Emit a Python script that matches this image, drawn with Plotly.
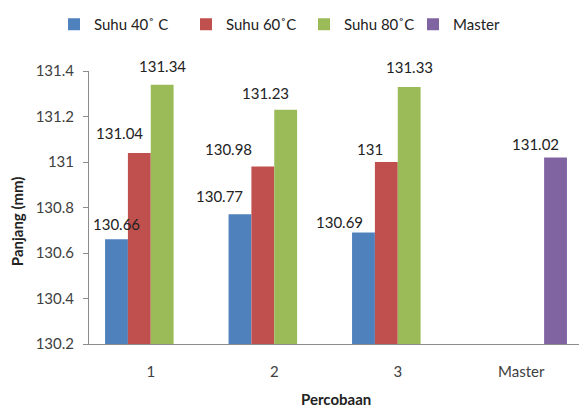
import plotly.graph_objects as go

categories = ["1", "2", "3", "Master"]
series_names = ["Suhu 40˚ C", "Suhu 60˚C", "Suhu 80˚C", "Master"]
suhu_40 = [130.66, 130.77, 130.69, None]
suhu_60 = [131.04, 130.98, 131.00, None]
suhu_80 = [131.34, 131.23, 131.33, None]
master = [None, None, None, 131.02]
y_tick_vals = [130.2, 130.4, 130.6, 130.8, 131.0, 131.2, 131.4]
y_tick_text = ["130.2", "130.4", "130.6", "130.8", "131", "131.2", "131.4"]

colors = ["#4F81BD", "#C0504D", "#9BBB59", "#8064A2"]
all_series = [suhu_40, suhu_60, suhu_80, master]

# label nudges (px) per series/category, styling only
label_dx = [[0, -20, -24, 0], [-20, -34, -16, 0], [0, -20, 0, 0], [0, 0, 0, -20]]
label_dy = [[15, 18, 11, 0], [20, 18, 13, 0], [19, 17, 20, 0], [0, 0, 0, 13]]
# legend entry left edges (figure px), styling only
legend_left_px = [46, 178, 296, 405]

bargap = 0.26
font = "Lato, Carlito, Calibri, sans-serif"
fs = 15

# the page body adds an 8px margin, so the figure is drawn 8px smaller
W, H = 579, 401
ML, MR, MT, MB = 81, 4, 63, 65
PW, PH = W - ML - MR, H - MT - MB

fig = go.Figure()
legend_ids = ["legend", "legend2", "legend3", "legend4"]
for name, vals, col, lid in zip(series_names, all_series, colors, legend_ids):
    fig.add_trace(go.Bar(x=categories, y=vals, name=name, marker_color=col,
                         marker_line_width=0, hoverinfo="skip", legend=lid))

slot = (1 - bargap) / len(all_series)
for k, vals in enumerate(all_series):
    for i, v in enumerate(vals):
        if v is None:
            continue
        fig.add_annotation(x=i + (k - 1.5) * slot, y=v, xref="x", yref="y",
                           text=f"{v:g}", showarrow=False, yanchor="middle",
                           xshift=label_dx[k][i], yshift=label_dy[k][i],
                           font=dict(family=font, size=fs, color="#222222"))

fig.add_annotation(text="<b>Panjang (mm)</b>", xref="paper", yref="paper",
                   x=-(ML - 9) / PW, y=0.45, textangle=-90, showarrow=False,
                   xanchor="center", yanchor="middle",
                   font=dict(family=font, size=fs, color="#222222"))
fig.add_annotation(text="<b>Percobaan</b>", xref="paper", yref="paper",
                   x=0.5, y=-(55) / PH, showarrow=False,
                   xanchor="center", yanchor="middle",
                   font=dict(family=font, size=fs, color="#222222"))

legends = {}
for lid, left in zip(legend_ids, legend_left_px):
    legends[lid] = dict(orientation="h", x=(left - ML) / PW, xanchor="left",
                        yref="container", y=1, yanchor="top",
                        font=dict(family=font, size=fs, color="#222222"),
                        itemwidth=30, bgcolor="rgba(0,0,0,0)")

fig.update_layout(
    width=W, height=H,
    margin=dict(l=ML, r=MR, t=MT, b=MB),
    paper_bgcolor="white", plot_bgcolor="white",
    barmode="group", bargap=bargap, bargroupgap=0,
    font=dict(family=font, size=fs, color="#404040"),
    showlegend=True,
    **legends,
    xaxis=dict(type="category", showline=True, linecolor="#8C8C8C", linewidth=1,
               ticks="", showgrid=False, automargin=False,
               ticklabelstandoff=14,
               tickfont=dict(family=font, size=fs, color="#404040")),
    yaxis=dict(range=[130.2, 131.4], tickvals=y_tick_vals, ticktext=y_tick_text,
               showline=True, linecolor="#8C8C8C", linewidth=1,
               ticks="outside", ticklen=5, tickcolor="#8C8C8C",
               showgrid=False, zeroline=False, automargin=False,
               ticklabelstandoff=6,
               tickfont=dict(family=font, size=fs, color="#404040")),
)

fig.write_html("out.html")
